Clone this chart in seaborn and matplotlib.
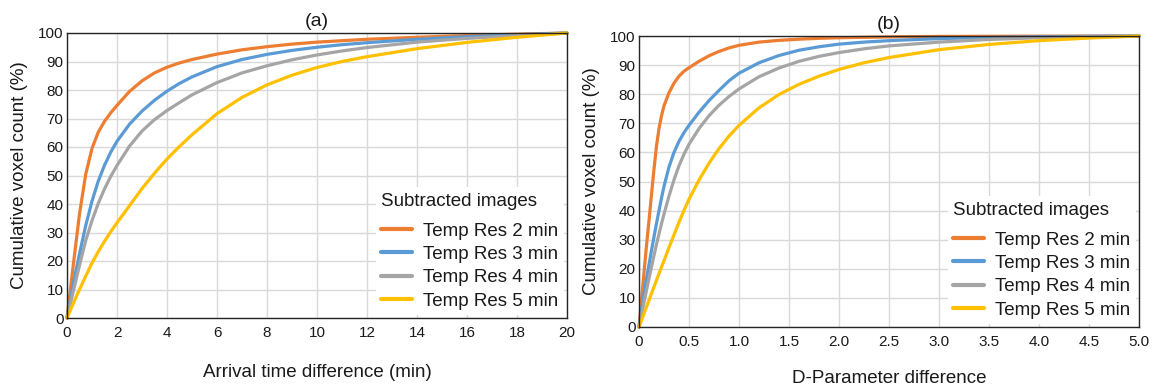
import matplotlib
matplotlib.use("Agg")
import matplotlib.pyplot as plt
import seaborn as sns
import pandas as pd

# ---------------- data ----------------
series_labels = ["Temp Res 2 min", "Temp Res 3 min", "Temp Res 4 min", "Temp Res 5 min"]
series_colors = ["#ED7D31", "#5B9BD5", "#A5A5A5", "#FFC000"]

# Panel (a): arrival time difference (min) vs cumulative voxel count (%)
a_x = [0, 0.25, 0.5, 0.75, 1, 1.25, 1.5, 1.75, 2, 2.5, 3, 3.5, 4, 4.5, 5, 6, 7, 8, 9, 10, 11, 12, 14, 16, 18, 20]
a_y_2 = [0, 18.5, 36.5, 50.5, 59.5, 65.2, 69, 72, 74.6, 79.5, 83.2, 86, 88, 89.5, 90.7, 92.6, 94.1, 95.2, 96.1, 96.8, 97.3, 97.8, 98.5, 99.1, 99.6, 100]
a_y_3 = [0, 12, 22.5, 32.5, 41, 48, 53.6, 58.2, 62, 68, 72.6, 76.4, 79.6, 82.3, 84.6, 88.2, 90.7, 92.5, 93.9, 95, 95.9, 96.6, 97.8, 98.7, 99.4, 100]
a_y_4 = [0, 9.3, 18.5, 27.2, 34.2, 40.2, 45.3, 49.7, 53.5, 60.3, 65.6, 69.6, 72.8, 75.6, 78.3, 82.6, 86, 88.5, 90.6, 92.3, 93.7, 94.9, 96.8, 98.1, 99.1, 100]
a_y_5 = [0, 5.1, 10, 14.7, 19.3, 23.3, 26.9, 30.3, 33.4, 39.4, 45.4, 50.8, 55.8, 60.2, 64.3, 71.7, 77.4, 81.8, 85.2, 87.9, 90, 91.7, 94.5, 96.7, 98.5, 100]

# Panel (b): D-parameter difference vs cumulative voxel count (%)
b_x = [0, 0.025, 0.05, 0.075, 0.1, 0.125, 0.15, 0.175, 0.2, 0.225, 0.25, 0.3, 0.35, 0.4, 0.45, 0.5,
       0.6, 0.7, 0.8, 0.9, 1.0, 1.2, 1.4, 1.6, 1.8, 2.0, 2.25, 2.5, 3.0, 3.5, 4.0, 4.5, 5.0]
b_y_2 = [0, 9.3, 18.7, 28, 36.6, 45.5, 54.3, 62.2, 68.2, 72.6, 76, 80.5, 83.8, 86.2, 87.9, 89.1,
         91.3, 93.2, 94.7, 95.9, 96.8, 97.9, 98.5, 98.9, 99.2, 99.4, 99.55, 99.7, 99.85, 99.9, 99.95, 99.98, 100]
b_y_3 = [0, 5.9, 11.5, 16.6, 21.5, 26.3, 31, 35.6, 40, 44.3, 48.3, 55, 60, 63.8, 66.8, 69.3,
         73.8, 77.8, 81.3, 84.6, 87.2, 90.8, 93.3, 95.1, 96.3, 97.2, 97.9, 98.4, 99.1, 99.5, 99.75, 99.9, 100]
b_y_4 = [0, 4.2, 8.4, 12.6, 16.7, 20.7, 24.6, 28.4, 32, 35.5, 38.8, 45, 50.6, 55.4, 59.4, 62.8,
         68.2, 72.6, 76.2, 79.2, 81.8, 86, 89, 91.3, 93, 94.3, 95.6, 96.6, 97.9, 98.8, 99.4, 99.8, 100]
b_y_5 = [0, 2.3, 4.6, 6.9, 9.2, 11.5, 13.8, 16.1, 18.3, 20.6, 22.8, 27.3, 31.7, 36, 40.1, 43.9,
         50.5, 56.3, 61.3, 65.6, 69.3, 75.3, 79.9, 83.4, 86.2, 88.5, 90.8, 92.6, 95.3, 97.1, 98.4, 99.3, 100]

a_xticks = [0, 2, 4, 6, 8, 10, 12, 14, 16, 18, 20]
a_xticklabels = ["0", "2", "4", "6", "8", "10", "12", "14", "16", "18", "20"]
b_xticks = [0, 0.5, 1.0, 1.5, 2.0, 2.5, 3.0, 3.5, 4.0, 4.5, 5.0]
b_xticklabels = ["0", "0.5", "1.0", "1.5", "2.0", "2.5", "3.0", "3.5", "4.0", "4.5", "5.0"]
yticks = [0, 10, 20, 30, 40, 50, 60, 70, 80, 90, 100]

titles = ["(a)", "(b)"]
xlabels = ["Arrival time difference (min)", "D-Parameter difference"]
ylabel = "Cumulative voxel count (%)"
legend_title = "Subtracted images"


def make_df(x, ys):
    frames = []
    for lab, y in zip(series_labels, ys):
        frames.append(pd.DataFrame({"x": x, "y": y, "series": lab}))
    return pd.concat(frames, ignore_index=True)


df_a = make_df(a_x, [a_y_2, a_y_3, a_y_4, a_y_5])
df_b = make_df(b_x, [b_y_2, b_y_3, b_y_4, b_y_5])

# ---------------- style ----------------
sns.set_theme(style="white")
plt.rcParams["font.family"] = ["Liberation Sans", "DejaVu Sans"]
plt.rcParams["text.color"] = "#1a1a1a"
plt.rcParams["axes.labelcolor"] = "#1a1a1a"

fig = plt.figure(figsize=(11.62, 3.90), dpi=100)
W, H = 1162, 390
boxes = [(67, 567, 33, 318), (639, 1139, 36, 327)]
xlabelpads = [17, 15]
palette = dict(zip(series_labels, series_colors))

for i, (df, (l, r, t, b)) in enumerate(zip([df_a, df_b], boxes)):
    ax = fig.add_axes([l / W, (H - b) / H, (r - l) / W, (b - t) / H])
    sns.lineplot(data=df, x="x", y="y", hue="series", hue_order=series_labels,
                 palette=palette, linewidth=2.3, legend=False, ax=ax,
                 estimator=None, sort=True)
    for ln in ax.get_lines():
        ln.set_clip_on(False)
        ln.set_solid_joinstyle("round")
    if i == 0:
        ax.set_xlim(0, 20)
        ax.set_xticks(a_xticks)
        ax.set_xticklabels(a_xticklabels)
    else:
        ax.set_xlim(0, 5)
        ax.set_xticks(b_xticks)
        ax.set_xticklabels(b_xticklabels)
    ax.set_ylim(0, 100)
    ax.set_yticks(yticks)
    ax.set_yticklabels([str(v) for v in yticks])
    ax.grid(True, color="#d9d9d9", linewidth=1.0)
    ax.set_axisbelow(True)
    for sp in ax.spines.values():
        sp.set_visible(True)
        sp.set_color("#262626")
        sp.set_linewidth(1.0)
        sp.set_zorder(6)
    ax.tick_params(axis="both", length=0, labelsize=11, colors="#1a1a1a")
    ax.tick_params(axis="x", pad=6)
    ax.tick_params(axis="y", pad=2.5)
    ax.set_title(titles[i], fontsize=14, pad=5)
    ax.set_xlabel(xlabels[i], fontsize=13.5, labelpad=xlabelpads[i])
    ax.set_ylabel(ylabel, fontsize=13.5, labelpad=7)

    handles = ax.get_lines()[:len(series_labels)]
    leg = ax.legend(handles, series_labels, title=legend_title, loc="lower right",
                    fontsize=13.5, title_fontsize=13.5, frameon=True,
                    framealpha=1.0, facecolor="white", edgecolor="none",
                    borderaxespad=0.15, borderpad=0.3, labelspacing=0.33,
                    handlelength=1.65, handletextpad=0.6, alignment="left",
                    fancybox=False)
    leg.get_frame().set_linewidth(0)
    leg._legend_box.sep = 9
    for lh in leg.legend_handles:
        lh.set_linewidth(3.0)

fig.savefig("out.png", dpi=100)
